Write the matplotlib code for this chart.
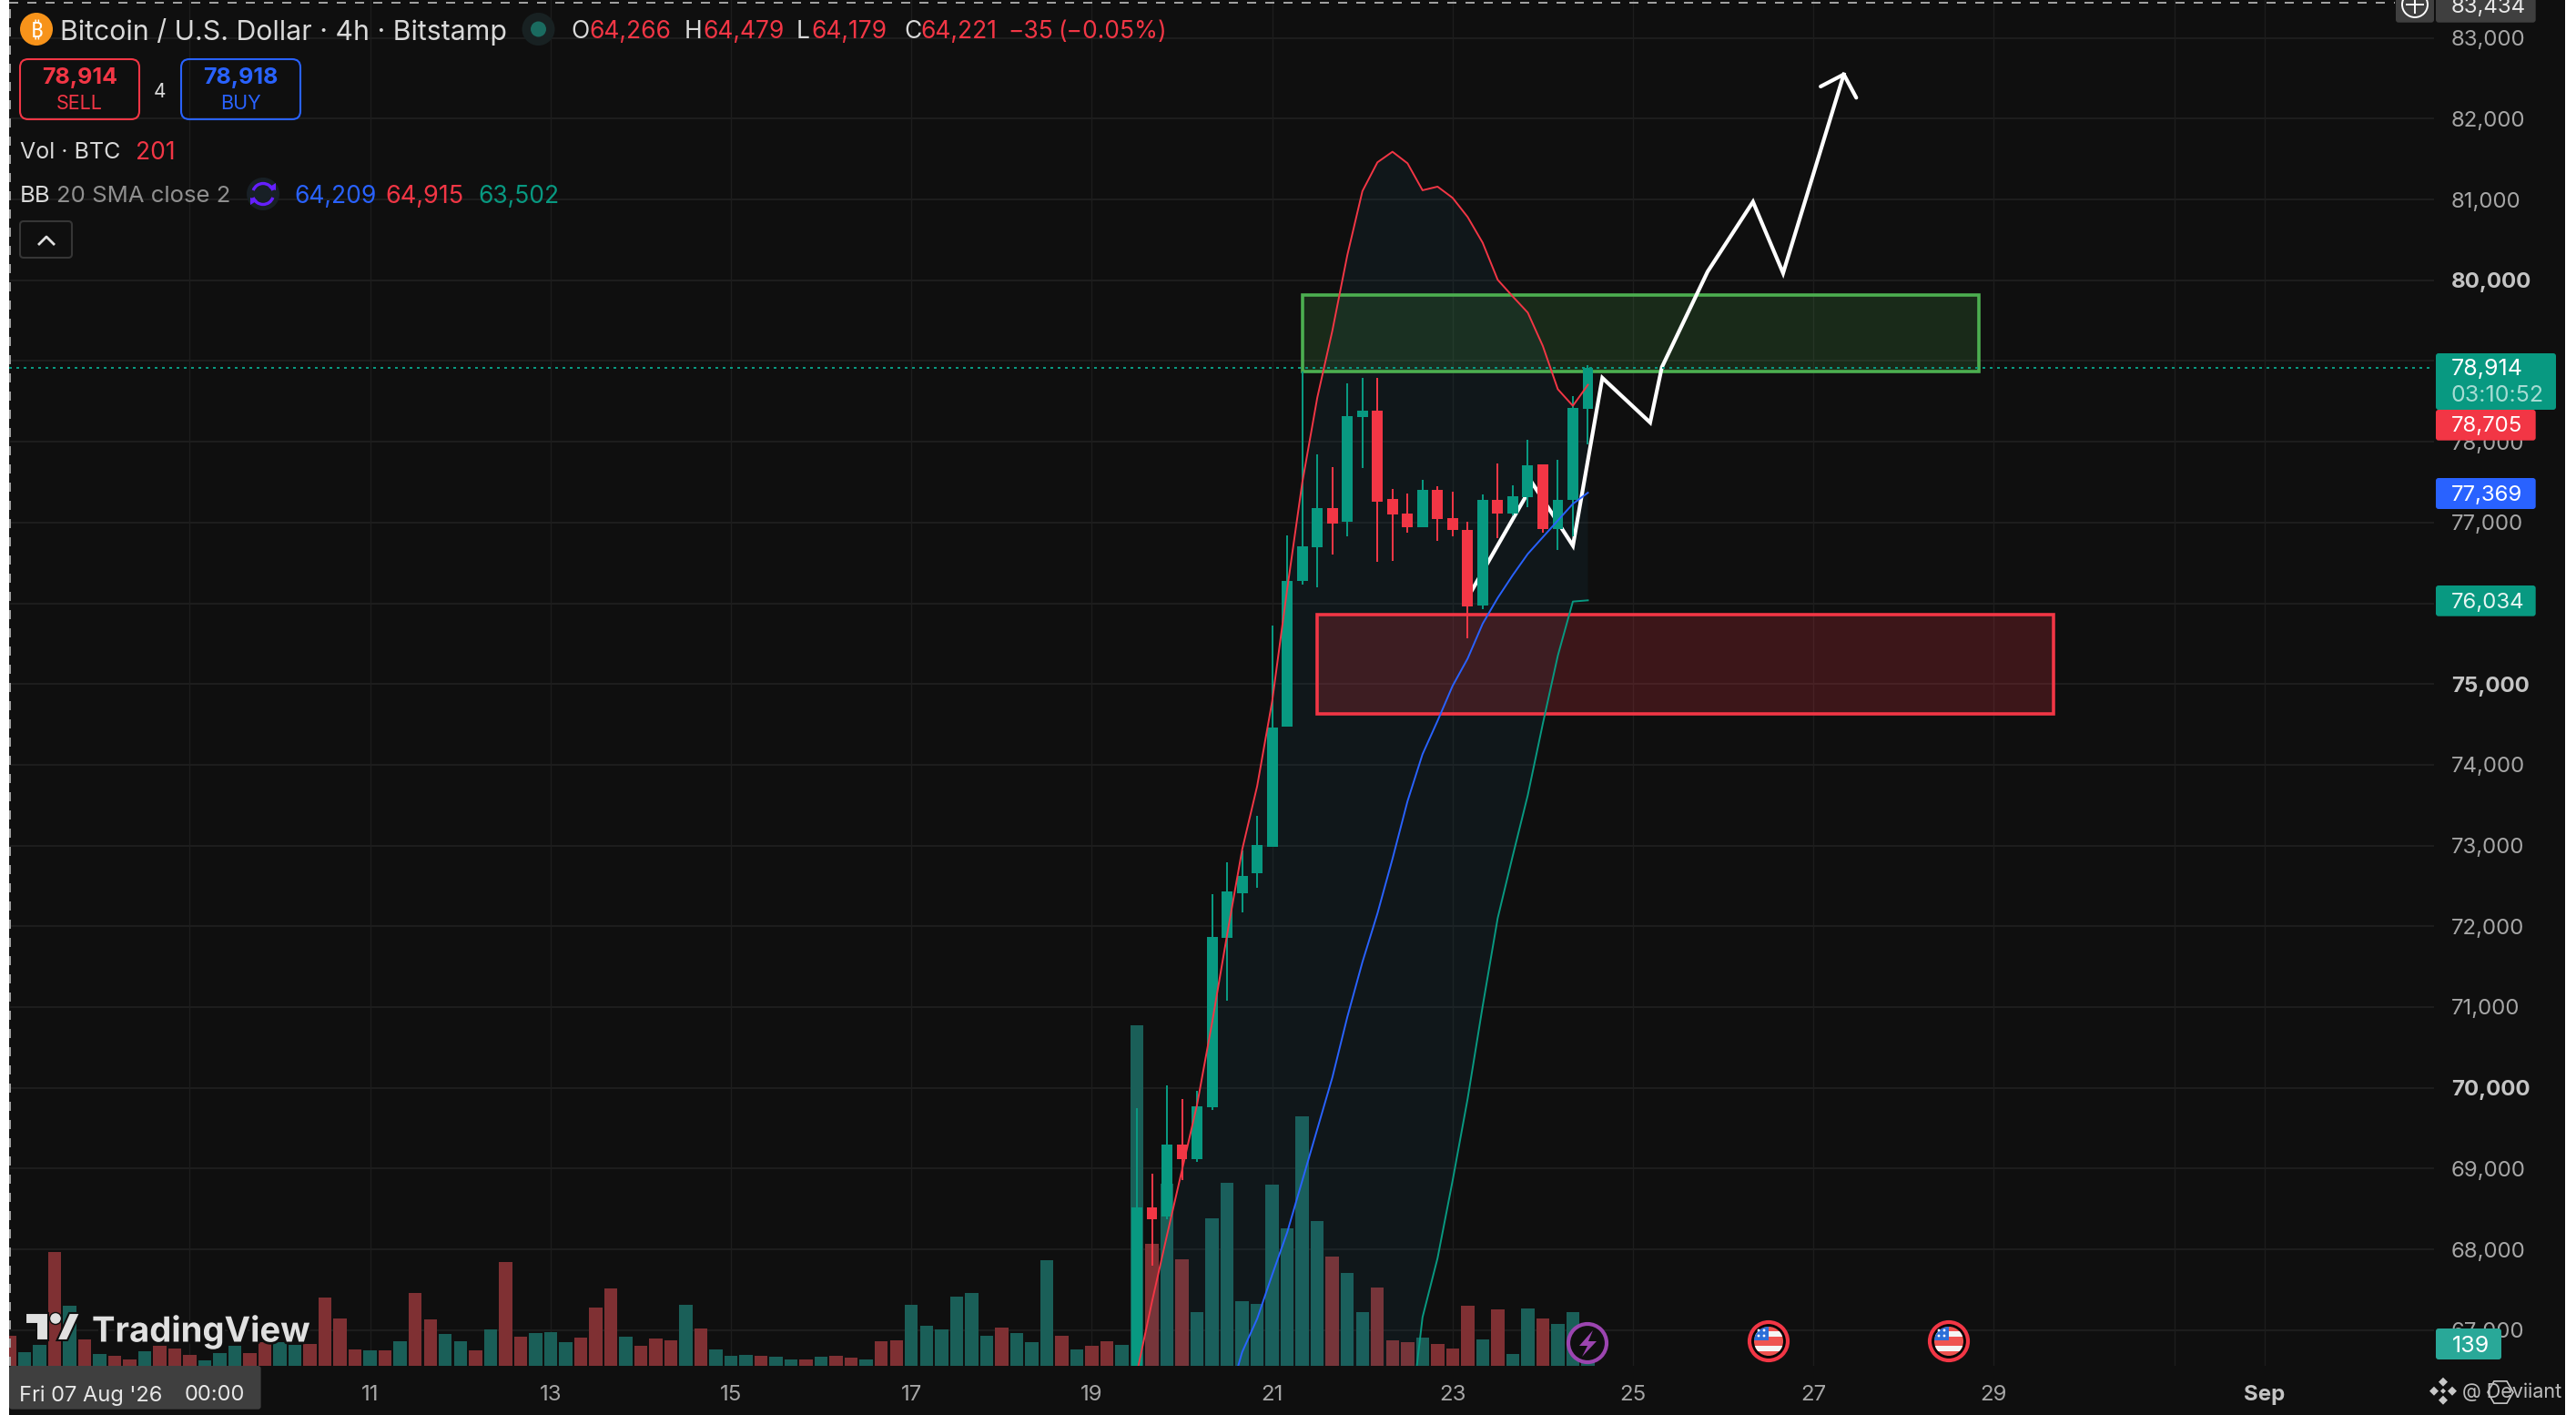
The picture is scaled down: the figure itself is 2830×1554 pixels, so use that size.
import numpy as np
import matplotlib
matplotlib.use("Agg")
import matplotlib.pyplot as plt
import matplotlib.patches as patches
import matplotlib.patheffects as effects
from matplotlib import font_manager
from matplotlib.ft2font import FT2Font

plt.rcParams["font.family"] = ["Inter", "DejaVu Sans"]

GREEN = "#089981"
RED = "#F23645"
BLUE = "#2962FF"
BG = "#0F0F0F"
GRID = "#1D1D1D"
VOL_GREEN = "#1A5F58"
VOL_RED = "#7F3033"

# volume per 4h bar, from Fri 7 Aug 00:00 on
volumes = [
    201, 91, 139, 756, 397, 175, 79, 67, 42, 97, 133, 115, 73, 36, 85, 133, 85, 155, 155, 139,
    145, 454, 315, 109, 103, 103, 163, 484, 309, 212, 163, 103, 242, 690, 194, 218, 224, 157, 188, 387,
    514, 194, 133, 182, 169, 405, 248, 109, 67, 73, 67, 61, 42, 42, 61, 67, 54, 42, 163, 169,
    405, 266, 242, 460, 484, 200, 254, 218, 157, 702, 200, 109, 133, 163, 139, 2263, 811, 1210, 708, 357,
    980, 1216, 430, 411, 1204, 914, 1658, 962, 726, 617, 357, 520, 169, 157, 188, 145, 115, 399, 175, 375,
    79, 381, 315, 278, 357, 139,
]
volume_sides = (
    "rggrgrgrrgrrrgggrrgg"
    "rrrrgrgrrggrgrrgggrr"
    "rgrrrgrgggrggrgrrgrr"
    "ggggggrgggrgrrggrgrg"
    "ggggggggrggrrrgrrrgr"
    "ggrggg"
)

# candles visible on the chart, 19 Aug 12:00 to 24 Aug 12:00
opens = [
    66300, 68519, 68406, 69297, 69117, 69760, 71857, 72409, 72657, 72988, 74477, 76277, 76698, 77179, 77010, 78306,
    78385, 77291, 77111, 76942, 77404, 77055, 76908, 75972, 77280, 77111, 77314, 77720, 76920, 77280, 78408,
]
closes = [
    68519, 68373, 69297, 69117, 69771, 71868, 72432, 72624, 73007, 74462, 76277, 76705, 77179, 76987, 78317, 78385,
    77258, 77100, 76942, 77404, 77043, 76908, 75961, 77280, 77111, 77325, 77709, 76920, 77280, 78419, 78914,
]
highs = [
    69748, 68936, 70030, 69861, 69962, 72398, 72793, 72939, 73368, 75724, 76841, 78866, 77844, 77686, 78723, 78791,
    78791, 77415, 77359, 77528, 77449, 77382, 77010, 77348, 77731, 77461, 78024, 77720, 77776, 78566, 78949,
]
lows = [
    66250, 67798, 68373, 68857, 69083, 69726, 71079, 72173, 72477, 72988, 74477, 76236, 76198, 76604, 76829, 77675,
    76514, 76525, 76874, 76942, 76773, 76829, 75567, 75927, 76807, 77089, 77190, 76874, 76660, 76829, 77968,
]

# Bollinger bands for the same bars
bb_upper = [
    66470, 67347, 68173, 68981, 69789, 70805, 71895, 72947, 73736, 74789, 76179, 77494, 78547, 79374, 80313, 81103,
    81460, 81591, 81448, 81114, 81159, 81020, 80783, 80464, 80005, 79799, 79599, 79186, 78650, 78445, 78705,
]
bb_mid = [
    64230, 64390, 64560, 64810, 65120, 65520, 66080, 66726, 67140, 67685, 68211, 68850, 69489, 70127, 70879, 71556,
    72158, 72834, 73548, 74131, 74544, 74977, 75315, 75747, 76066, 76348, 76611, 76818, 77025, 77231, 77369,
]
bb_lower = [
    63510, 63530, 63560, 63600, 63650, 63700, 63760, 63830, 63910, 64000, 64100, 64210, 64330, 64460, 64600, 64780,
    64990, 65240, 65570, 67159, 67891, 68850, 69864, 71011, 72101, 72872, 73623, 74507, 75352, 76021, 76036,
]

# hand drawn forecast path, (day of August, price)
path_days = [23.214, 23.89, 24.334, 24.66, 25.19, 25.32, 25.827, 26.33, 26.664, 27.337]
path_prices = [76160, 77476, 76713, 78791, 78238, 78923, 80106, 80971, 80088, 82549]
arrow_days = [27.08, 27.337, 27.475]
arrow_prices = [82399, 82549, 82260]

supply_box = [21.336, 28.83, 78873, 79817]
demand_box = [21.495, 29.66, 74630, 75859]

last_price = 78914
crosshair_price = 83434
crosshair_day = 7.0

price_ticks = list(range(67000, 84000, 1000))
day_ticks = [11, 13, 15, 17, 19, 21, 23, 25, 27, 29, 32]
day_labels = ["11", "13", "15", "17", "19", "21", "23", "25", "27", "29", "Sep"]
minor_days = [7, 9, 31]


def family_with_glyph(char, families):
    for name in families:
        path = font_manager.findfont(name, fallback_to_default=False)
        if ord(char) in FT2Font(path).get_charmap():
            return name
    return None


fig = plt.figure(figsize=(28.3, 15.54), dpi=100, facecolor="white")
rect = [10 / 2830, 54 / 1554, 2664 / 2830, 1500 / 1554]

bg = fig.add_axes([0, 0, 1, 1], zorder=0)
bg.set_xlim(0, 2830)
bg.set_ylim(1554, 0)
bg.axis("off")
bg.add_patch(patches.FancyBboxPatch((10, -40), 2808, 1640, boxstyle="round,pad=0,rounding_size=18",
                                    fc=BG, ec="none"))

# grid and scales live on the bottom axes
ax_grid = fig.add_axes(rect, zorder=1)
ax_grid.patch.set_alpha(0)
ax_grid.set_xlim(6.997, 33.88)
ax_grid.set_ylim(66557, 83470)
ax_grid.yaxis.tick_right()
ax_grid.set_yticks(price_ticks)
ax_grid.set_yticklabels([f"{p:,}" for p in price_ticks])
ax_grid.set_xticks(day_ticks)
ax_grid.set_xticklabels(day_labels)
ax_grid.set_xticks(minor_days, minor=True)
ax_grid.tick_params(axis="y", length=0, pad=13.5, labelsize=17.3, labelcolor="#A6A6A6")
ax_grid.tick_params(axis="x", which="both", length=0, pad=15, labelsize=17.3, labelcolor="#A6A6A6")
ax_grid.grid(True, axis="y", color=GRID, lw=1.5)
ax_grid.grid(True, axis="x", which="both", color=GRID, lw=1.0)
for spine in ax_grid.spines.values():
    spine.set_visible(False)
for tick, p in zip(ax_grid.get_yticklabels(), price_ticks):
    if p % 5000 == 0:
        tick.set_color("#C4C4C4")
        tick.set_fontweight("bold")
ax_grid.get_xticklabels()[-1].set_color("#C4C4C4")
ax_grid.get_xticklabels()[-1].set_fontweight("bold")

# volume pane shares the x axis only
ax_vol = fig.add_axes(rect, sharex=ax_grid, zorder=2)
ax_vol.patch.set_alpha(0)
ax_vol.axis("off")
ax_vol.set_ylim(0, 9075)
vol_days = 7 + np.arange(len(volumes)) / 6
vol_colors = [VOL_GREEN if s == "g" else VOL_RED for s in volume_sides]
ax_vol.bar(vol_days, volumes, width=0.146, color=vol_colors, linewidth=0)

ax = fig.add_axes(rect, sharex=ax_grid, sharey=ax_grid, zorder=3)
ax.patch.set_alpha(0)
ax.axis("off")

bar_days = vol_days[-len(opens):]
ax.fill_between(bar_days, bb_upper, bb_lower, color="#1C6A8A", alpha=0.09, linewidth=0, zorder=1)

ax.add_patch(patches.Rectangle((supply_box[0], supply_box[2]), supply_box[1] - supply_box[0],
                               supply_box[3] - supply_box[2], fc=(0.30, 0.69, 0.31, 0.17),
                               ec="#4CAF50", lw=2.6, zorder=2))
ax.add_patch(patches.Rectangle((demand_box[0], demand_box[2]), demand_box[1] - demand_box[0],
                               demand_box[3] - demand_box[2], fc=(0.95, 0.21, 0.27, 0.2),
                               ec=RED, lw=2.6, zorder=2))

ax.plot(path_days, path_prices, color="white", lw=3.0, solid_joinstyle="miter", zorder=3)
ax.plot(arrow_days, arrow_prices, color="white", lw=3.0, solid_capstyle="round", zorder=3)

candle_colors = [GREEN if c >= o else RED for o, c in zip(opens, closes)]
ax.vlines(bar_days, lows, highs, colors=candle_colors, lw=1.45, zorder=4)
bottoms = np.minimum(opens, closes)
heights = np.abs(np.array(closes) - np.array(opens))
ax.bar(bar_days, heights, bottom=bottoms, width=0.12, color=candle_colors, linewidth=0, zorder=5)

ax.plot(bar_days, bb_upper, color=RED, lw=1.4, zorder=6)
ax.plot(bar_days, bb_mid, color=BLUE, lw=1.4, zorder=6)
ax.plot(bar_days, bb_lower, color=GREEN, lw=1.4, zorder=6)

ax.axhline(last_price, color=GREEN, lw=1.44, ls=(0, (1.5, 2.5)), zorder=7)
ax.plot([crosshair_day, 33.45], [crosshair_price, crosshair_price], color="#A0A0A0", lw=1.44,
        ls=(0, (5, 5)), zorder=7)
ax.axvline(crosshair_day + 0.01, color="#A0A0A0", lw=1.44, ls=(0, (5, 5)), zorder=7, clip_on=False)

# everything on top of the chart, in screen pixels
ui = fig.add_axes([0, 0, 1, 1], zorder=10)
ui.set_xlim(0, 2830)
ui.set_ylim(1554, 0)
ui.axis("off")


def label(x, y, text, color="#D9D9D9", size=17.3, ha="left", weight="normal", **kw):
    return ui.text(x, y, text, color=color, fontsize=size, ha=ha, va="center_baseline", fontweight=weight, **kw)


def tag(x0, x1, y0, y1, color):
    ui.add_patch(patches.FancyBboxPatch((x0, y0), x1 - x0, y1 - y0, boxstyle="round,pad=0,rounding_size=3",
                                        fc=color, ec="none"))


# header row
ui.add_patch(patches.Circle((40, 32), 18, fc="#F7931A", ec="none"))
btc_family = family_with_glyph("₿", ["Noto Sans", "Roboto", "Open Sans", "Lato", "Liberation Sans",
                                     "Noto Sans CJK SC", "DejaVu Sans"])
if btc_family:
    label(40, 32, "₿", color="white", size=17, ha="center", weight="bold", family=btc_family)
else:
    # no installed family has the bitcoin sign
    label(40, 32, "B", color="white", size=16, ha="center", weight="bold", rotation=-12)
    ui.plot([38, 39], [19, 23], color="white", lw=1.5)
    ui.plot([41, 42], [41, 45], color="white", lw=1.5)
label(66, 32, "Bitcoin / U.S. Dollar · 4h · Bitstamp", size=21.8)
ui.add_patch(patches.Circle((591.5, 32), 18, fc="#182122", ec="none"))
ui.add_patch(patches.Circle((591.5, 32), 8.5, fc="#1A6B60", ec="none"))
for x, text, color in [(627, "O", "#D9D9D9"), (647, "64,266", RED), (752, "H", "#D9D9D9"), (772, "64,479", RED),
                       (875, "L", "#D9D9D9"), (891, "64,179", RED), (993, "C", "#D9D9D9"), (1011, "64,221", RED),
                       (1107, "−35", RED), (1162, "(−0.05%)", RED)]:
    label(x, 32, text, color=color, size=19)

# sell and buy buttons
for x0, color, price, side in [(22, RED, "78,914", "SELL"), (199, BLUE, "78,918", "BUY")]:
    ui.add_patch(patches.FancyBboxPatch((x0, 65), 131, 66, boxstyle="round,pad=0,rounding_size=9",
                                        fc="none", ec=color, lw=1.5))
    label(x0 + 65.5, 83, price, color=color, size=18, ha="center", weight="bold")
    label(x0 + 65.5, 112, side, color=color, size=15.5, ha="center")
label(175, 99, "4", size=15, ha="center")

# indicator legend
label(22, 165, "Vol · BTC", size=18)
label(149, 165, "201", color=RED, size=19)
label(22, 213, "BB", size=18.5)
label(62, 213, "20 SMA close 2", color="#8F8F8F", size=18.5)
ui.add_patch(patches.Circle((289, 213), 18, fc="#182026", ec="none"))
ui.add_patch(patches.Arc((289, 213), 23, 23, theta1=200, theta2=340, ec="#651FFF", lw=2.4))
ui.add_patch(patches.Arc((289, 213), 23, 23, theta1=20, theta2=160, ec="#651FFF", lw=2.4))
ui.add_patch(patches.Polygon([[295, 206], [303, 209], [303, 201]], fc="#651FFF", ec="none"))
ui.add_patch(patches.Polygon([[283, 220], [275, 217], [275, 225]], fc="#651FFF", ec="none"))
label(323, 213, "64,209", color=BLUE, size=19)
label(423, 213, "64,915", color=RED, size=19.5)
label(525, 213, "63,502", color=GREEN, size=19)
ui.add_patch(patches.FancyBboxPatch((22, 243), 57, 40, boxstyle="round,pad=0,rounding_size=4",
                                    fc="none", ec="#363636", lw=1.5))
ui.plot([43, 51, 59], [268, 260, 268], color="#E0E0E0", lw=2)

# price scale tags
tag(2676, 2785.7, -10, 24.7, "#3F3F3F")
label(2692.7, 5, "83,434", color="#E8E8E8")
tag(2632, 2674, -10, 24.7, "#3F3F3F")
ui.add_patch(patches.Circle((2653, 5), 14, fc="none", ec="white", lw=1.4))
ui.plot([2644, 2662], [5, 5], color="white", lw=1.4)
ui.plot([2653, 2653], [-4, 14], color="white", lw=1.4)

tag(2676, 2808, 388, 450, GREEN)
label(2692.7, 403, "78,914", color="white", size=18)
label(2692.7, 431.7, "03:10:52", color="#A6DCD3", size=18)
tag(2676, 2785.7, 450, 483.7, RED)
label(2692.7, 466, "78,705", color="white")
tag(2676, 2785.7, 525, 559, BLUE)
label(2692.7, 542, "77,369", color="white")
tag(2676, 2785.7, 643, 676.7, GREEN)
label(2692.7, 660, "76,034", color="#E6F5F2")
tag(2676, 2748, 1459, 1493, "#29A898")
label(2694, 1476, "139", color="white", size=18)

# crosshair date tag
tag(10, 286.6, 1500, 1547.7, "#3F3F3F")
label(21, 1530, "Fri 07 Aug '26", color="#E8E8E8", size=17)
label(203, 1530, "00:00", color="#E8E8E8", size=17)

# TradingView logo
halo = [effects.withStroke(linewidth=4, foreground=BG)]
logo_color = "#E0E0E0"
for shape in ([[28, 1442], [53, 1442], [53, 1472], [40, 1472], [40, 1454], [28, 1454]],
              [[76, 1442], [88, 1442], [74, 1472], [62.5, 1472]]):
    ui.add_patch(patches.Polygon(shape, fc=logo_color, ec=BG, lw=1.5))
ui.add_patch(patches.Circle((61, 1448), 6.5, fc=logo_color, ec=BG, lw=1))
label(101, 1459, "TradingView", color=logo_color, size=27.5, weight="bold", path_effects=halo)

# event markers on the time scale
ui.add_patch(patches.Circle((1744, 1475), 21, fc=BG, ec="#9C45B0", lw=3))
ui.add_patch(patches.Polygon([[1750, 1461], [1735, 1478], [1744, 1478], [1738, 1490], [1754, 1473], [1745, 1473]],
                             fc="#9C45B0", ec="none"))
for cx in (1943, 2141):
    ui.add_patch(patches.Circle((cx, 1473), 21, fc="#050505", ec=RED, lw=3))
    disc = patches.Circle((cx, 1473), 16, fc="#EF5350", ec="none")
    ui.add_patch(disc)
    for y0 in (1462, 1478):
        stripe = patches.Rectangle((cx - 16, y0), 32, 6, fc="#F5F5F5", ec="none")
        ui.add_patch(stripe)
        stripe.set_clip_path(disc)
    canton = patches.Rectangle((cx - 16, 1457), 16, 15, fc="#2D6FD8", ec="none")
    ui.add_patch(canton)
    canton.set_clip_path(disc)
    for sx, sy in [(-11, 1461), (-5, 1461), (-11, 1467), (-5, 1467)]:
        ui.add_patch(patches.Circle((cx + sx, sy), 1.4, fc="white", ec="none"))

# watermark in the bottom right corner
for dx, dy in [(0, -10), (0, 10), (-10, 0), (10, 0), (0, 0)]:
    size = 5 if dx or dy else 3
    ui.add_patch(patches.Polygon([[2684 + dx - size, 1527.7 + dy], [2684 + dx, 1527.7 + dy - size],
                                  [2684 + dx + size, 1527.7 + dy], [2684 + dx, 1527.7 + dy + size]],
                                 fc="#C8C8C8", ec="none"))
label(2705, 1527, "@ Deviiant", color="#BDBDBD", size=15.5)
ui.add_patch(patches.RegularPolygon((2747, 1529), 6, radius=14, orientation=np.pi / 6, fc="none",
                                    ec="#C8C8C8", lw=1.2))

fig.savefig("out.png", dpi=100, facecolor="white")
